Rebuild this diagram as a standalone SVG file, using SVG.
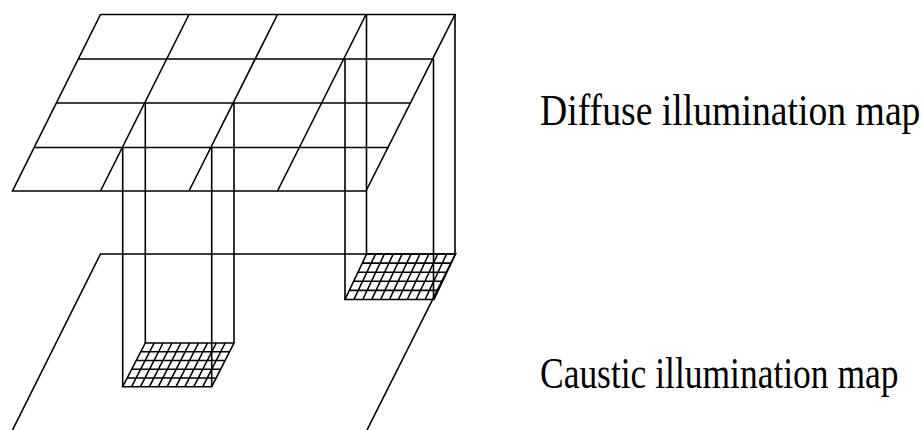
<svg xmlns="http://www.w3.org/2000/svg" width="923" height="430" viewBox="0 0 923 430">
<style>
path{fill:none;stroke:#000;stroke-width:1.6}
text{font-family:"Liberation Serif","Times New Roman",serif;font-size:44px;fill:#000}
</style>
<rect width="923" height="430" fill="#fff"/>
<g id="diffuse-map">
<path d="M100.5 14.5H455L366 191H12.5ZM78.5 59H433M56.5 103H411M34.5 147.5H389M189 14.5L100.5 191M277.5 14.5L189 191M366 14.5L277.5 191"/>
</g>
<g id="caustic-map">
<path d="M12.5 430L100.5 254H455.5L367 430"/>
</g>
<g id="patch-left">
<path id="patch-left-grid" d="M145.3 343H234L211.7 386.7H122.7ZM140.9 351.7H229.6M136.5 360.5H225.2M132.1 369.2H220.8M127.7 378H216.4M154.2 343L131.6 386.7M163.1 343L140.5 386.7M172 343L149.4 386.7M180.9 343L158.3 386.7M189.7 343L167.2 386.7M198.6 343L176 386.7M207.5 343L184.9 386.7M216.3 343L193.8 386.7M225.2 343L202.8 386.7"/>
</g>
<g id="patch-right">
<path d="M366.7 254H455.5L434 299.5H345ZM362.4 263.1H451.2M358.1 272.2H446.9M353.8 281.3H442.6M349.5 290.4H438.3M375.6 254L353.9 299.5M384.4 254L362.8 299.5M393.3 254L371.7 299.5M402.2 254L380.6 299.5M411.1 254L389.5 299.5M420 254L398.4 299.5M428.9 254L407.3 299.5M437.8 254L416.2 299.5M446.6 254L425.1 299.5"/>
</g>
<g id="connectors">
<path d="M122.7 147.5V386.7M145.3 103V343M211.7 147.5V386.7M234 103V343M345 59V299.5M366.5 14.5V254M433.5 59V299.5M455 14.5V254"/>
</g>
<g id="label-diffuse"><text transform="translate(540 125) scale(.857 1)">Diffuse illumination map</text></g>
<g id="label-caustic"><text transform="translate(540 388) scale(.806 1)">Caustic illumination map</text></g>
</svg>
